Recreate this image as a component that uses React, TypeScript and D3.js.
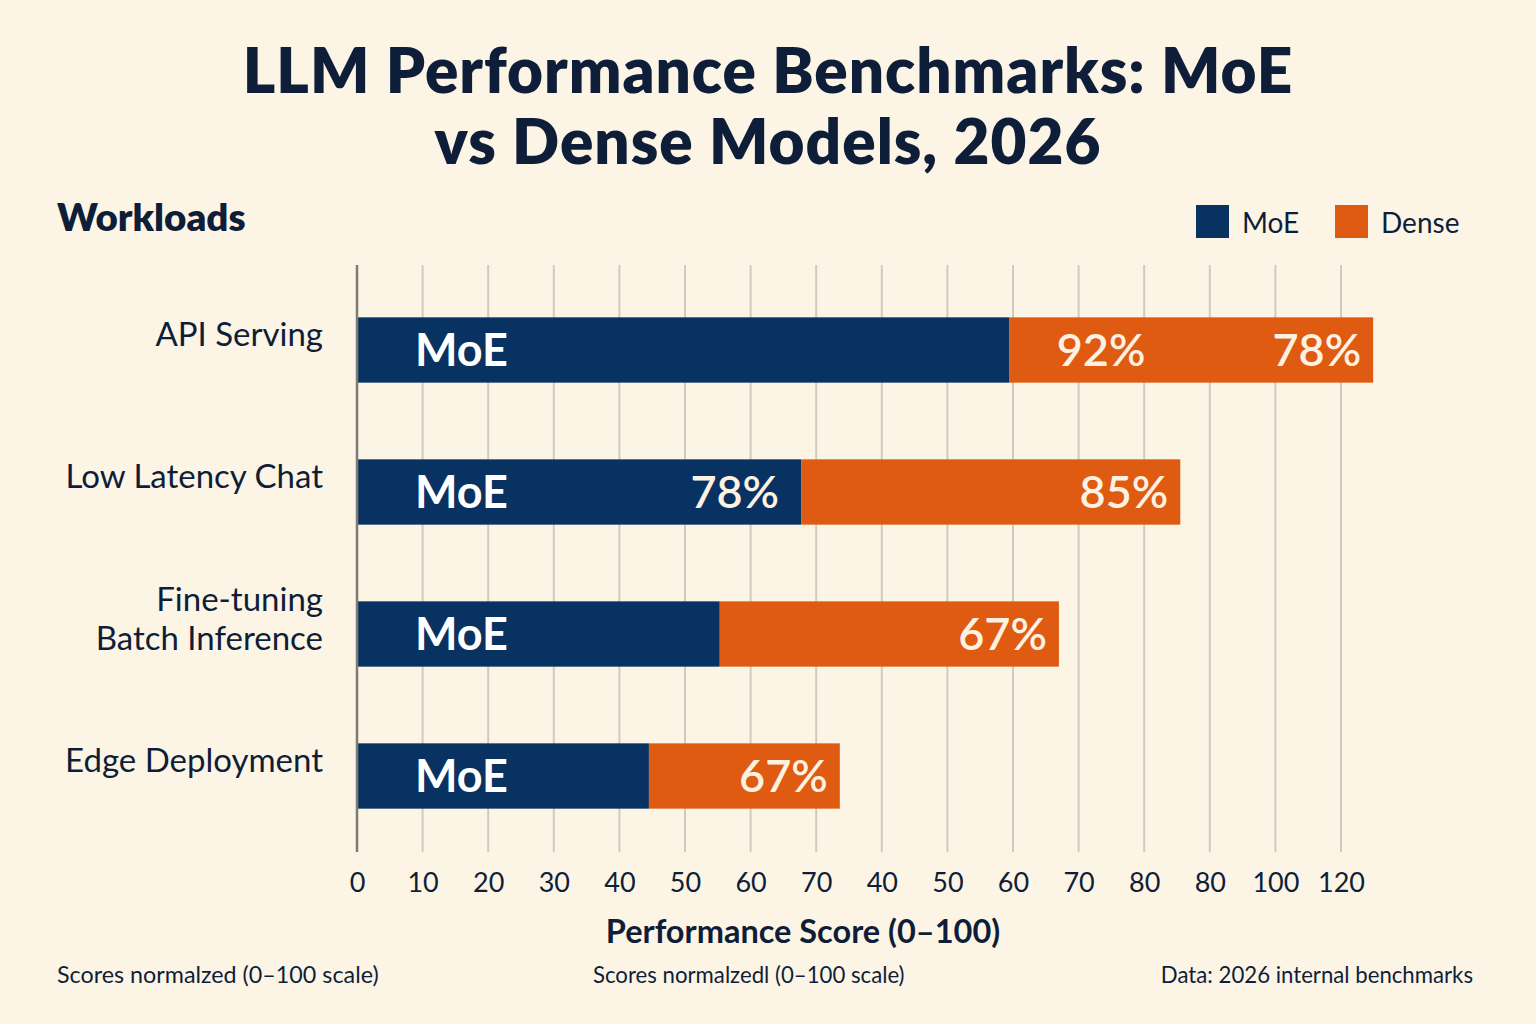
import * as d3 from 'd3';
import React, { useRef, useEffect } from 'react';

// workloads, top to bottom
const workloads = ['API Serving', 'Low Latency Chat', 'Fine-tuning\nBatch Inference', 'Edge Deployment'];
// segment lengths in axis position units (one tick step = 10)
const moeValues = [99.4, 67.7, 55.3, 44.5];
const denseValues = [55.5, 57.8, 51.7, 29.1];
// printed percentages inside the bars
const moeLabels = ['', '78%', '', ''];
const denseLabels = [['92%', '78%'], ['85%'], ['67%'], ['67%']];
// tick labels as printed under the axis
const tickLabels = ['0', '10', '20', '30', '40', '50', '60', '70', '40', '50', '60', '70', '80', '80', '100', '120'];

const NAVY = '#083262';
const ORANGE = '#df5b11';
const INK = '#0f1e38';
const BG = '#fcf5e6';
const FONT = 'Lato, "Open Sans", sans-serif';

export default function App() {
  const svgRef = useRef(null);
  const width = 1536, height = 1024;

  useEffect(() => {
    if (!svgRef.current) return;
    const svg = d3.select(svgRef.current);
    svg.selectAll('*').remove();

    svg.append('rect').attr('width', width).attr('height', height).attr('fill', BG);

    const margin = { top: 265, right: 195, bottom: 172, left: 357 };
    const plotH = height - margin.top - margin.bottom;

    const x = d3.scaleLinear().domain([0, 150]).range([margin.left, 1341]);
    const y = d3.scaleBand().domain(workloads).range([margin.top + 14, margin.top + 14 + 4 * 142]).paddingInner(0.54).paddingOuter(0.27);

    // title, two lines
    const titleLines = ['LLM Performance Benchmarks: MoE', 'vs Dense Models, 2026'];
    svg.append('g').selectAll('text').data(titleLines).enter().append('text')
      .attr('x', 768).attr('y', (d, i) => 93 + i * 71).attr('text-anchor', 'middle')
      .attr('font-family', FONT).attr('font-weight', 800).attr('font-size', 62)
      .attr('letter-spacing', 1).attr('fill', INK).text(d => d);

    svg.append('text').attr('x', 57).attr('y', 231).attr('font-family', FONT).attr('font-weight', 800)
      .attr('font-size', 38.5).attr('fill', INK).text('Workloads');

    // legend
    const legend = [{ name: 'MoE', color: NAVY, x: 1196 }, { name: 'Dense', color: ORANGE, x: 1335 }];
    const lg = svg.append('g').selectAll('g').data(legend).enter().append('g');
    lg.append('rect').attr('x', d => d.x).attr('y', 205).attr('width', 33).attr('height', 33).attr('fill', d => d.color);
    lg.append('text').attr('x', d => d.x + 46).attr('y', 233).attr('font-family', FONT).attr('font-size', 28)
      .attr('fill', INK).text(d => d.name);

    // gridlines
    const ticks = d3.range(tickLabels.length).map(i => i * 10);
    svg.append('g').selectAll('line').data(ticks.slice(1)).enter().append('line')
      .attr('x1', d => x(d)).attr('x2', d => x(d))
      .attr('y1', margin.top).attr('y2', margin.top + plotH)
      .attr('stroke', '#cfcbbf').attr('stroke-width', 2);

    // stacked bars
    const rows = workloads.map((w, i) => ({ w, moe: moeValues[i], dense: denseValues[i] }));
    const stacked = d3.stack().keys(['moe', 'dense'])(rows as any);
    const colors = [NAVY, ORANGE];
    stacked.forEach((layer, k) => {
      svg.append('g').selectAll('rect').data(layer).enter().append('rect')
        .attr('x', d => x(d[0]))
        .attr('y', d => y((d.data as any).w))
        .attr('width', d => x(d[1]) - x(d[0]))
        .attr('height', y.bandwidth())
        .attr('fill', colors[k]);
    });

    // y axis line
    svg.append('line').attr('x1', x(0)).attr('x2', x(0)).attr('y1', margin.top).attr('y2', margin.top + plotH)
      .attr('stroke', '#7d7b74').attr('stroke-width', 2.5);

    // labels inside bars
    rows.forEach((r, i) => {
      const cy = y(r.w) + y.bandwidth() / 2 + 16;
      svg.append('text').attr('x', x(0) + 58).attr('y', cy).attr('font-family', FONT).attr('font-weight', 700)
        .attr('font-size', 45).attr('fill', '#ffffff').text('MoE');
      if (moeLabels[i]) {
        svg.append('text').attr('x', x(r.moe) - 22).attr('y', cy).attr('text-anchor', 'end')
          .attr('font-family', FONT).attr('font-weight', 600).attr('font-size', 45).attr('fill', '#fdf2e2').text(moeLabels[i]);
      }
      const dl = denseLabels[i];
      const end = x(r.moe + r.dense);
      svg.append('text').attr('x', end - 12).attr('y', cy).attr('text-anchor', 'end')
        .attr('font-family', FONT).attr('font-weight', 600).attr('font-size', 45).attr('fill', '#fdf2e2').text(dl[dl.length - 1]);
      if (dl.length > 1) {
        svg.append('text').attr('x', x(r.moe) + 92).attr('y', cy).attr('text-anchor', 'middle')
          .attr('font-family', FONT).attr('font-weight', 600).attr('font-size', 45).attr('fill', '#fdf2e2').text(dl[0]);
      }
    });

    // category labels
    workloads.forEach(w => {
      const lines = w.split('\n');
      const cy = y(w) + y.bandwidth() / 2;
      const t = svg.append('text').attr('text-anchor', 'end').attr('font-family', FONT).attr('font-size', 33).attr('fill', INK);
      lines.forEach((ln, j) => {
        t.append('tspan').attr('x', 323).attr('y', cy - 4 + (j - (lines.length - 1) / 2) * 39).text(ln);
      });
    });

    // x axis tick labels
    const xAxis = d3.axisBottom(x).tickValues(ticks).tickSize(0).tickPadding(0)
      .tickFormat((d, i) => tickLabels[i]);
    const ax = svg.append('g').attr('transform', `translate(0, ${margin.top + plotH + 18})`).call(xAxis);
    ax.select('.domain').remove();
    ax.selectAll('text').attr('font-family', FONT).attr('font-size', 27).attr('fill', INK).attr('dy', '0.8em');

    svg.append('text').attr('x', 803).attr('y', 943).attr('text-anchor', 'middle').attr('font-family', FONT)
      .attr('font-weight', 700).attr('font-size', 32.5).attr('fill', INK).text('Performance Score (0–100)');

    // footnotes
    const foot = svg.append('g').attr('font-family', FONT).attr('fill', INK);
    foot.append('text').attr('x', 57).attr('y', 983).attr('font-size', 23.3).text('Scores normalzed (0–100 scale)');
    foot.append('text').attr('x', 593).attr('y', 983).attr('font-size', 22.2).text('Scores normalzedl (0–100 scale)');
    foot.append('text').attr('x', 1473).attr('y', 983).attr('font-size', 22.2).attr('text-anchor', 'end').text('Data: 2026 internal benchmarks');
  }, []);

  return (
    <div style={{ position: 'fixed', left: 0, top: 0 }}>
      <svg ref={svgRef} width={width} height={height} style={{ display: 'block' }} />
    </div>
  );
}
